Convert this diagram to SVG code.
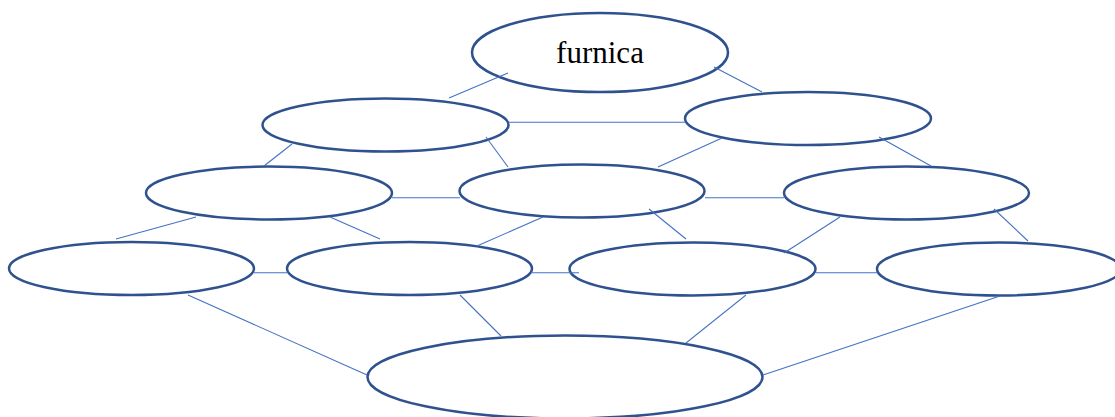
<svg xmlns="http://www.w3.org/2000/svg" width="1115" height="417" viewBox="0 0 1115 417">
<style>
.node ellipse{fill:#FFFFFF;stroke:#2F528F;stroke-width:2.5}
.edges line{stroke:#4472C4;stroke-width:1.1}
.lbl{font-family:"Liberation Serif","Times New Roman",serif;font-size:31px;fill:#000000;text-anchor:middle}
</style>
<rect width="1115" height="417" fill="#FFFFFF"/>
<g id="n-furnica" class="node">
<ellipse cx="600" cy="52.5" rx="128" ry="39.5"/>
<text class="lbl" x="600" y="63">furnica</text>
</g>
<g id="n-r2-left" class="node"><ellipse cx="385.5" cy="125" rx="123" ry="26.5"/></g>
<g id="n-r2-right" class="node"><ellipse cx="808" cy="118.5" rx="123" ry="26.5"/></g>
<g id="n-r3-left" class="node"><ellipse cx="269" cy="193" rx="123" ry="26.5"/></g>
<g id="n-r3-mid" class="node"><ellipse cx="582" cy="191" rx="122.5" ry="26.5"/></g>
<g id="n-r3-right" class="node"><ellipse cx="906.5" cy="193" rx="122.5" ry="26.5"/></g>
<g id="n-r4-1" class="node"><ellipse cx="131.5" cy="268.5" rx="122.5" ry="26.5"/></g>
<g id="n-r4-2" class="node"><ellipse cx="409.5" cy="268.5" rx="122.5" ry="26.5"/></g>
<g id="n-r4-3" class="node"><ellipse cx="692.5" cy="269" rx="123" ry="26.5"/></g>
<g id="n-r4-4" class="node"><ellipse cx="999" cy="269" rx="122" ry="26.5"/></g>
<g id="n-bottom" class="node"><ellipse cx="565" cy="377" rx="197.5" ry="41.5"/></g>
<g class="edges">
<line x1="449" y1="98" x2="508" y2="73"/>
<line x1="714" y1="67" x2="762" y2="92"/>
<line x1="508" y1="122.3" x2="685" y2="122.3"/>
<line x1="292" y1="144" x2="264" y2="166"/>
<line x1="486" y1="137" x2="508" y2="167"/>
<line x1="722" y1="138" x2="658" y2="167"/>
<line x1="879" y1="137" x2="931" y2="166"/>
<line x1="392" y1="197.7" x2="460" y2="197.7"/>
<line x1="705" y1="197.7" x2="784" y2="197.7"/>
<line x1="196" y1="217" x2="116" y2="239"/>
<line x1="330" y1="217" x2="380" y2="239"/>
<line x1="543" y1="217" x2="477" y2="246"/>
<line x1="649" y1="209" x2="686" y2="239"/>
<line x1="840" y1="217" x2="784" y2="253"/>
<line x1="994" y1="209" x2="1028" y2="241"/>
<line x1="254" y1="272.7" x2="287" y2="272.7"/>
<line x1="531" y1="272.7" x2="579" y2="272.7"/>
<line x1="816" y1="272.7" x2="877" y2="272.7"/>
<line x1="188" y1="295" x2="367" y2="375"/>
<line x1="460" y1="295" x2="501" y2="336"/>
<line x1="746" y1="295" x2="686" y2="343"/>
<line x1="1000" y1="296" x2="763" y2="375"/>
</g>
</svg>
